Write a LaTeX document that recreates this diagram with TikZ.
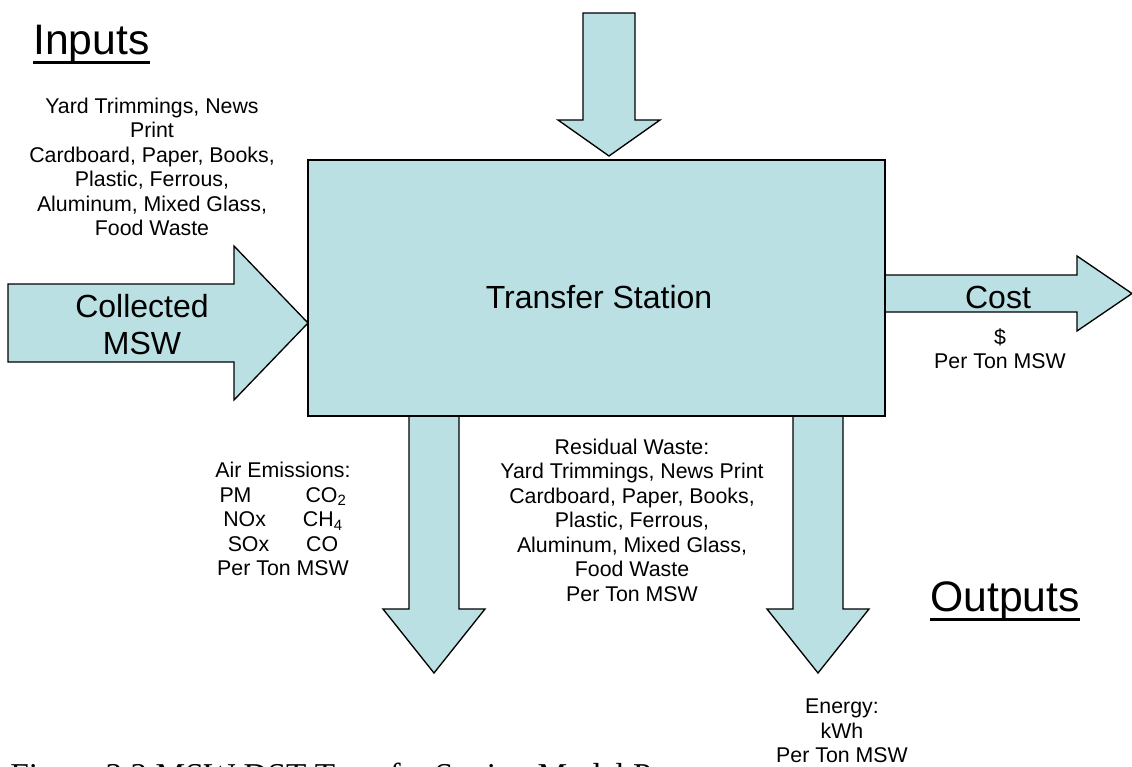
\documentclass[tikz,border=0pt]{standalone}
\usepackage{fontspec}
\setmainfont{Liberation Sans}
\newfontfamily\capfont{Liberation Serif}
\usepackage{tikz}
\definecolor{mswblue}{RGB}{186,224,227}
\newcommand{\bodysize}{\fontsize{16}{18.4}\selectfont}
\newcommand{\labelsize}{\fontsize{24}{27.6}\selectfont}
\newcommand{\headsize}{\fontsize{32}{36.8}\selectfont}
\tikzstyle{flow}=[draw, fill=mswblue, line width=1pt, line join=miter]
\tikzstyle{station}=[flow, line width=1.5pt, inner sep=0pt, minimum width=432.75pt, minimum height=192pt]
\tikzstyle{info}=[inner sep=0pt, align=center, font=\bodysize]
\tikzstyle{biglabel}=[inner sep=0pt, align=center, font=\labelsize]
\tikzstyle{heading}=[inner sep=0pt, anchor=base west, font=\headsize]

\begin{document}
\begin{tikzpicture}[x=0.75pt, y=-0.75pt]
        \useasboundingbox (0,0) rectangle (1132,767);
        % block arrows, drawn before the station so its border covers their ends
        \draw[flow] (8,284) -- (234,284) -- (234,246) -- (308,323) -- (234,400) -- (234,362) -- (8,362) -- cycle;
        \draw[flow] (583,13) -- (635,13) -- (635,120) -- (660,120) -- (609,156) -- (558,120) -- (583,120) -- cycle;
        \draw[flow] (885,275) -- (1077,275) -- (1077,256) -- (1132,293.5) -- (1077,331) -- (1077,312) -- (885,312) -- cycle;
        \foreach \x in {434, 818} {
            \draw[flow] (\x-25,416) -- (\x-25,609) -- (\x-51,609) -- (\x,673) -- (\x+51,609) -- (\x+25,609) -- (\x+25,416) -- cycle;
        }
        \node[station] (ts) at (596.5,288) {};
        \node[biglabel, anchor=base] (tslabel) at (599,308) {Transfer Station};
        \node[biglabel] (collected) at (142,324.7) {Collected\\MSW};
        \node[biglabel, anchor=base] (cost) at (998,308) {Cost};
        \node[info] (inlist) at (152,167) {Yard Trimmings, News\\Print\\Cardboard, Paper, Books,\\Plastic, Ferrous,\\Aluminum, Mixed Glass,\\Food Waste};
        \node[info] (costunit) at (1000,348.5) {\$\\Per Ton MSW};
        \node[info] (air) at (283,519.2) {Air Emissions:\\PM\hspace{40.5pt}CO\textsubscript{2}\\NOx\hspace{27.75pt}CH\textsubscript{4}\\SOx\hspace{27.75pt}CO\\Per Ton MSW};
        \node[info] (residual) at (632,520.2) {Residual Waste:\\Yard Trimmings, News Print\\Cardboard, Paper, Books,\\Plastic, Ferrous,\\Aluminum, Mixed Glass,\\Food Waste\\Per Ton MSW};
        \node[info] (energy) at (842,731) {Energy:\\kWh\\Per Ton MSW};
        % underlined headings
        \node[heading] (inputs) at (33,55) {Inputs};
        \node[heading] (outputs) at (930,611) {Outputs};
        \draw[line width=2.25pt] ([yshift=-6pt]inputs.base west) -- ([yshift=-6pt]inputs.base east);
        \draw[line width=2.25pt] ([yshift=-6pt]outputs.base west) -- ([yshift=-6pt]outputs.base east);
        % caption, cut off by the page edge
        \begin{scope}
            \clip (0,0) rectangle (1132,767);
            \node[inner sep=0pt, anchor=base west, font=\capfont\fontsize{25}{30}\selectfont] (caption) at (10,786) {Figure 3.2 MSW DST Transfer Station Model P};
        \end{scope}
    \end{tikzpicture}
\end{document}
